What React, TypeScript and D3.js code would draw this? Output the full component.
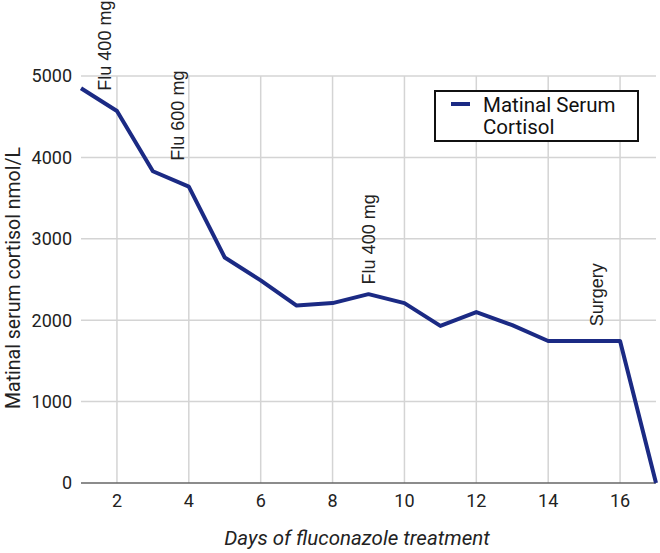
import React from "react";
import * as d3 from "d3";

const days = [1, 2, 3, 4, 5, 6, 7, 8, 9, 10, 11, 12, 13, 14, 15, 16, 17];
const cortisol = [4850, 4570, 3830, 3640, 2770, 2490, 2180, 2210, 2320, 2210, 1930, 2100, 1940, 1745, 1745, 1745, 0];
const xTicks = [2, 4, 6, 8, 10, 12, 14, 16];
const yTicks = [0, 1000, 2000, 3000, 4000, 5000];
const annotationDays = [1.67, 3.7, 9.0, 15.35];
const annotationLevels = [4820, 3960, 2440, 1925];
const annotationLabels = ["Flu 400 mg", "Flu 600 mg", "Flu 400 mg", "Surgery"];
const seriesName = ["Matinal Serum", "Cortisol"];
const xTitle = "Days of fluconazole treatment";
const yTitle = "Matinal serum cortisol nmol/L";

const W = 660;
const H = 553;
const left = 81;
const right = 656;
const top = 76;
const bottom = 483;
const lineColor = "#1b2a84";
const font = "Roboto, 'Noto Sans', sans-serif";
const annFont = "'Liberation Sans', Arial, sans-serif";

export default function App() {
  const x = d3.scaleLinear().domain([1, 17]).range([left, right]);
  const y = d3.scaleLinear().domain([0, 5000]).range([bottom, top]);
  const line = d3
    .line<number>()
    .x((_, i) => x(days[i]))
    .y((d) => y(d));
  const path = line(cortisol) || "";

  return (
    <svg
      width={W}
      height={H}
      style={{ position: "absolute", left: 0, top: 0, background: "#fff" }}
    >
      <rect x={0} y={0} width={W} height={H} fill="#fff" />
      {xTicks.map((t) => (
        <line key={"gx" + t} x1={x(t)} x2={x(t)} y1={y(5000)} y2={bottom} stroke="#d4d4d4" strokeWidth={1.5} />
      ))}
      {yTicks.filter((t) => t > 0).map((t) => (
        <line key={"gy" + t} x1={left} x2={right} y1={y(t)} y2={y(t)} stroke="#d4d4d4" strokeWidth={1.5} />
      ))}
      <line x1={left} x2={right} y1={y(0)} y2={y(0)} stroke="#666" strokeWidth={1.5} />
      {yTicks.map((t) => (
        <text key={"ty" + t} x={72} y={y(t)} dy="0.35em" textAnchor="end" fontFamily={font} fontSize={18} fill="#222">
          {t}
        </text>
      ))}
      {xTicks.map((t) => (
        <text key={"tx" + t} x={x(t)} y={507} textAnchor="middle" fontFamily={font} fontSize={18} fill="#222">
          {t}
        </text>
      ))}
      <text x={357} y={545} textAnchor="middle" fontFamily={font} fontStyle="italic" fontSize={20.5} fill="#222">
        {xTitle}
      </text>
      <text
        transform={`translate(20, 278) rotate(-90)`}
        textAnchor="middle"
        fontFamily={font}
        fontSize={19.5}
        fill="#222"
      >
        {yTitle}
      </text>
      <path d={path} fill="none" stroke={lineColor} strokeWidth={4} strokeLinejoin="round" />
      {annotationLabels.map((lab, i) => (
        <text
          key={"a" + i}
          transform={`translate(${x(annotationDays[i])}, ${y(annotationLevels[i])}) rotate(-90)`}
          dy="0.35em"
          textAnchor="start"
          fontFamily={annFont}
          fontSize={18}
          fill="#222"
        >
          {lab}
        </text>
      ))}
      <rect x={435} y={91} width={203} height={50} fill="#fff" stroke="#111" strokeWidth={2} />
      <line x1={451} x2={470} y1={104} y2={104} stroke={lineColor} strokeWidth={4} />
      <text x={483} y={112} fontFamily={font} fontSize={20.5} fill="#111">
        {seriesName[0]}
      </text>
      <text x={483} y={134} fontFamily={font} fontSize={20.5} fill="#111">
        {seriesName[1]}
      </text>
    </svg>
  );
}
